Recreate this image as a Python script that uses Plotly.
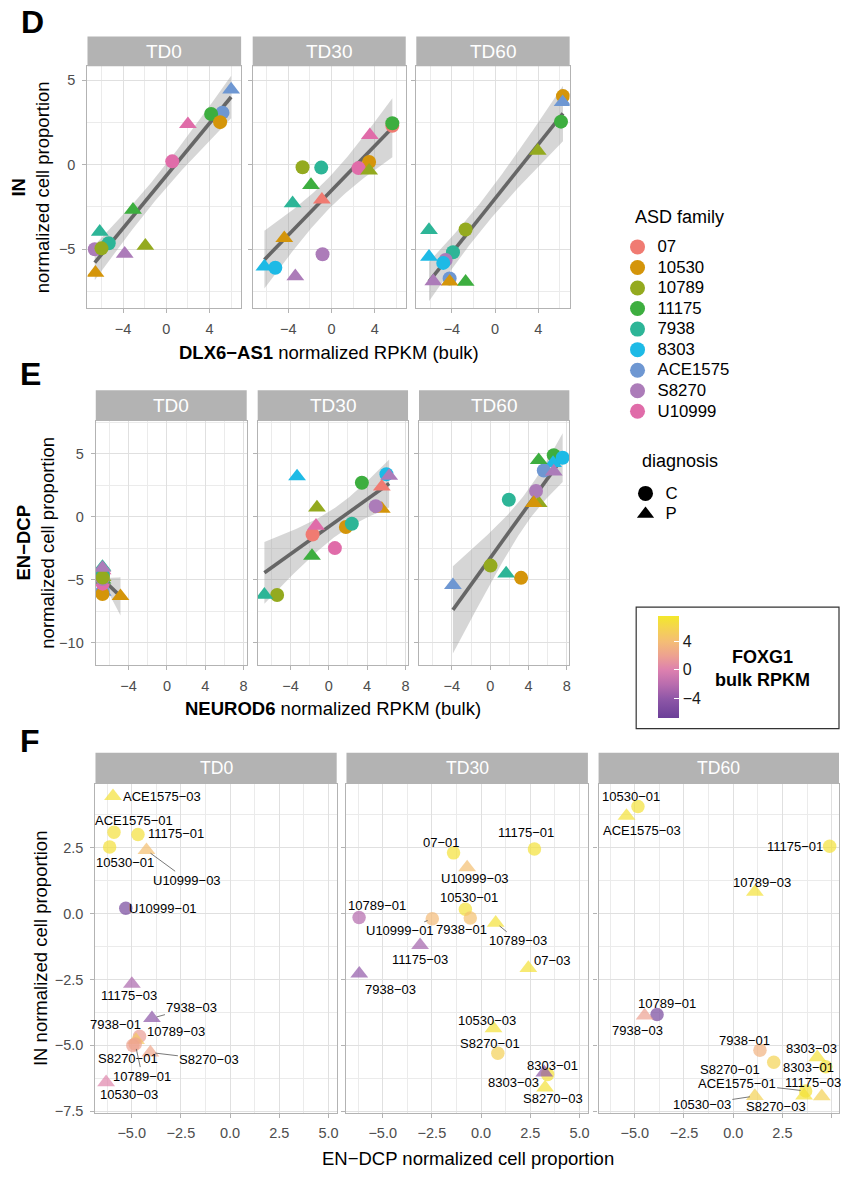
import numpy as np
import plotly.graph_objects as go

W, H = 841, 1178
FONT = "Liberation Sans, Arial, Helvetica, sans-serif"

# ---------------- data ----------------
timepoints = ["TD0", "TD30", "TD60"]
families = ["07", "10530", "10789", "11175", "7938", "8303", "ACE1575", "S8270", "U10999"]
family_colors = ["#F07B72", "#D4950A", "#94AA1F", "#3DAE3F", "#2DB597",
                 "#1DBAE6", "#6E97D2", "#AC7CB9", "#E06CA9"]
diagnoses = ["C", "P"]

td0_sample = ["ACE1575-03", "ACE1575-01", "11175-01", "10530-01", "U10999-03", "U10999-01",
              "11175-03", "7938-03", "7938-01", "10789-03", "S8270-01", "10789-01",
              "S8270-03", "10530-03"]
td0_dlx6 = [6.0, 5.2, 4.15, 4.98, 2.0, 0.55, -3.08, -6.16, -5.33, -1.94, -6.62, -6.0, -3.85, -6.56]
td0_neurod6 = [-6.70, -6.72, -6.71, -6.73, -6.72, -6.71, -6.73, -6.73, -6.70, -6.72, -6.73,
               -6.71, -6.73, -4.85]
td0_in = [4.45, 3.08, 3.0, 2.52, 2.4, 0.2, -2.67, -3.97, -4.65, -4.8, -5.0, -4.95, -5.27, -6.4]
td0_endcp = [-5.95, -5.9, -4.68, -6.12, -4.25, -5.3, -4.99, -3.97, -4.6, -4.78, -4.94, -4.82,
             -4.05, -6.3]
td0_foxg1 = [7.0, 6.8, 6.9, 6.9, 4.2, -5.8, -2.6, -4.2, 1.7, 5.0, 2.0, 2.2, 2.4, 0.3]

td30_sample = ["07-01", "11175-01", "U10999-03", "10530-01", "10789-01", "U10999-01", "7938-01",
               "10789-03", "11175-03", "7938-03", "07-03", "10530-03", "S8270-01", "8303-01",
               "8303-03", "S8270-03"]
td30_dlx6 = [5.63, 5.63, 3.55, 3.48, -2.68, 2.5, -0.95, 3.48, -1.9, -3.6, -0.89, -4.37, -0.83,
             -5.2, -6.21, -3.35]
td30_neurod6 = [-1.7, 3.45, -1.34, 1.78, -5.4, 0.63, 2.4, -1.24, -1.76, -6.73, 5.53, 5.53, 4.9,
                6.01, -3.32, 6.3]
td30_in = [2.3, 2.45, 1.75, 0.16, -0.15, -0.2, -0.17, -0.35, -1.2, -2.28, -2.07, -4.35, -5.3,
           -6.1, -6.03, -6.6]
td30_endcp = [-1.4, 2.71, -0.71, -0.8, -6.2, -2.48, -0.55, 0.74, -3.1, -6.19, 2.4, 0.63, 0.85,
              3.38, 3.21, 3.25]
td30_foxg1 = [7.0, 7.0, 4.2, 7.0, -2.2, 3.8, 4.3, 7.0, -3.0, -3.8, 7.0, 7.0, 5.6, 7.0, -4.0, 7.0]

td60_sample = ["10530-01", "ACE1575-03", "11175-01", "10789-03", "10789-01", "7938-03",
               "7938-01", "S8270-01", "8303-03", "8303-01", "ACE1575-01", "11175-03",
               "10530-03", "S8270-03"]
td60_dlx6 = [6.28, 6.25, 6.1, 3.94, -2.73, -6.12, -3.9, -4.58, -6.12, -4.8, -4.21, -2.73,
             -4.21, -5.72]
td60_neurod6 = [3.23, -3.89, 6.64, 5.07, 0.04, 1.67, 1.95, 4.79, 6.57, 7.57, 5.6, 5.07, 4.55,
                6.64]
td60_in = [4.06, 3.7, 2.55, 0.82, -3.83, -3.87, -5.18, -5.64, -5.45, -5.81, -6.73, -6.93,
           -6.92, -6.9]
td60_endcp = [-4.84, -5.42, 4.9, 1.1, -3.87, -4.5, 1.36, 2.06, 4.27, 4.7, 3.68, 4.5, 1.1, 3.6]
td60_foxg1 = [7.0, 7.0, 7.0, 7.0, -5.8, 2.0, 3.2, 5.8, 7.0, 7.0, 7.0, 5.7, 5.7, 7.0]

foxg1_ticks = [-4, 0, 4]
foxg1_limits = [-6.64, 7.57]
foxg1_scale_values = [-6.64, -4, -2, 0, 2, 4, 6, 7.57]
foxg1_scale_colors = ["#6B3F98", "#8E57A7", "#B86CAE", "#DC80AF", "#EDA191", "#F4BD75",
                      "#F4D54E", "#F3E82A"]

samples = {"TD0": td0_sample, "TD30": td30_sample, "TD60": td60_sample}
dlx6 = {"TD0": td0_dlx6, "TD30": td30_dlx6, "TD60": td60_dlx6}
neurod6 = {"TD0": td0_neurod6, "TD30": td30_neurod6, "TD60": td60_neurod6}
in_prop = {"TD0": td0_in, "TD30": td30_in, "TD60": td60_in}
endcp_prop = {"TD0": td0_endcp, "TD30": td30_endcp, "TD60": td60_endcp}
foxg1 = {"TD0": td0_foxg1, "TD30": td30_foxg1, "TD60": td60_foxg1}

# ---------------- label placement (style: pixel offsets, segment flag) ----------------
LABEL_OFFSETS = {
    "TD0": {"ACE1575-03": (49, 0, 0), "ACE1575-01": (20, -12, 0), "11175-01": (38, -1, 0),
            "10530-01": (15, 15, 0), "U10999-03": (41, 30, 1), "U10999-01": (37, 0, 0),
            "11175-03": (-3, 12, 0), "7938-03": (40, -11, 1), "7938-01": (-24, -12, 0),
            "10789-03": (40, -9, 0), "S8270-01": (-5, 13, 0), "10789-01": (7, 32, 1),
            "S8270-03": (59, 7, 1), "10530-03": (23, 12, 0)},
    "TD30": {"07-01": (-12, -10, 0), "11175-01": (-8, -16, 0), "U10999-03": (8, 11, 0),
             "10530-01": (4, -12, 0), "10789-01": (18, -12, 0), "U10999-01": (-32, 12, 1),
             "7938-01": (-9, 11, 0), "10789-03": (22, 18, 1), "11175-03": (0, 14, 0),
             "7938-03": (31, 16, 0), "07-03": (24, -8, 0), "10530-03": (-7, -8, 0),
             "S8270-01": (-8, -10, 0), "8303-01": (5, -9, 0), "8303-03": (-31, 10, 0),
             "S8270-03": (8, 11, 0)},
    "TD60": {"10530-01": (-7, -10, 0), "ACE1575-03": (15, 15, 0), "11175-01": (-35, 0, 0),
             "10789-03": (7, -9, 0), "10789-01": (10, -11, 0), "7938-03": (-7, 15, 0),
             "7938-01": (-15, -10, 0), "S8270-01": (-44, 7, 0), "8303-03": (-6, -9, 0),
             "8303-01": (-17, 1, 0), "ACE1575-01": (-69, -8, 1), "11175-03": (-9, -14, 0),
             "10530-03": (-53, 8, 1), "S8270-03": (-28, 11, 0)},
}

# ---------------- geometry (pixels) ----------------
SECTIONS = {
    "D": dict(panels=[(87.7, 241.7), (253.3, 406.7), (417.3, 571.0)], strip=(36.7, 66.7),
              ybot=310.0, xmin=-7.294, xppu=10.83, ytop=5.824, yppu=17.0,
              xdtick=4, xminor=2, ydtick=5, yminor=2.5, fmt="", strip_font=19),
    "E": dict(panels=[(96.0, 247.3), (258.3, 409.0), (420.0, 570.7)], strip=(392.7, 423.3),
              ybot=669.0, xmin=-7.43, xppu=9.6, ytop=7.63, yppu=12.67,
              xdtick=4, xminor=2, ydtick=5, yminor=2.5, fmt="", strip_font=19),
    "F": dict(panels=[(95.7, 337.5), (347.3, 589.3), (600.0, 841.0)], strip=(757.3, 788.3),
              ybot=1119.3, xmin=-6.84, xppu=19.73, ytop=4.926, yppu=26.53,
              xdtick=2.5, xminor=1.25, ydtick=2.5, yminor=1.25, fmt=".1f", strip_font=17.6),
}

fam_color = dict(zip(families, family_colors))


def px2x(px):
    return px / W


def px2y(py):
    return 1 - py / H


def t975(df):
    z = 1.959963985
    g1 = (z**3 + z) / 4
    g2 = (5 * z**5 + 16 * z**3 + 3 * z) / 96
    g3 = (3 * z**7 + 19 * z**5 + 17 * z**3 - 15 * z) / 384
    g4 = (79 * z**9 + 776 * z**7 + 1482 * z**5 - 1920 * z**3 - 945 * z) / 92160
    return z + g1 / df + g2 / df**2 + g3 / df**3 + g4 / df**4


def lm_band(x, y, n=80):
    x = np.asarray(x, float)
    y = np.asarray(y, float)
    b1, b0 = np.polyfit(x, y, 1)
    xs = np.linspace(x.min(), x.max(), n)
    yhat = b0 + b1 * xs
    resid = y - (b0 + b1 * x)
    dof = len(x) - 2
    s = np.sqrt(np.sum(resid**2) / dof)
    sxx = np.sum((x - x.mean()) ** 2)
    se = s * np.sqrt(1 / len(x) + (xs - x.mean()) ** 2 / sxx)
    t = t975(dof)
    return xs, yhat, yhat - t * se, yhat + t * se


def dash(s):
    return s.replace("-", "\u2212")


fig = go.Figure()
layout = dict(width=W, height=H, margin=dict(l=0, r=0, t=0, b=0), autosize=False,
              paper_bgcolor="white", plot_bgcolor="white", showlegend=True,
              font=dict(family=FONT, color="black"))
annotations = []
shapes = []

for si, (sec, g) in enumerate(SECTIONS.items()):
    top_strip, bot_strip = g["strip"]
    for k, tp in enumerate(timepoints):
        idx = si * 3 + k + 1
        sfx = "" if idx == 1 else str(idx)
        x0, x1 = g["panels"][k]
        xr = [g["xmin"], g["xmin"] + (x1 - x0) / g["xppu"]]
        yr = [g["ytop"] - (g["ybot"] - bot_strip) / g["yppu"], g["ytop"]]
        common = dict(showline=True, mirror=True, linecolor="#B3B3B3", linewidth=1.3,
                      showgrid=True, gridcolor="#E0E0E0", gridwidth=1.2, zeroline=False,
                      ticks="outside", ticklen=4, tickwidth=1, tickcolor="#B3B3B3",
                      tickfont=dict(family=FONT, size=14.5, color="#4D4D4D"),
                      fixedrange=True, tickmode="linear", tick0=0)
        layout["xaxis" + sfx] = dict(common, domain=[px2x(x0), px2x(x1)], range=xr,
                                     anchor="y" + sfx, dtick=g["xdtick"], tickformat=g["fmt"],
                                     ticklabelstandoff=3,
                                     minor=dict(dtick=g["xminor"], tick0=0, showgrid=True,
                                                gridcolor="#EBEBEB", gridwidth=0.8))
        layout["yaxis" + sfx] = dict(common, domain=[px2y(g["ybot"]), px2y(bot_strip)],
                                     range=yr, anchor="x" + sfx, dtick=g["ydtick"],
                                     tickformat=g["fmt"], showticklabels=(k == 0),
                                     ticklabelstandoff=4,
                                     minor=dict(dtick=g["yminor"], tick0=0, showgrid=True,
                                                gridcolor="#EBEBEB", gridwidth=0.8))
        # strip
        shapes.append(dict(type="rect", xref="paper", yref="paper", x0=px2x(x0), x1=px2x(x1),
                           y0=px2y(bot_strip), y1=px2y(top_strip), fillcolor="#B3B3B3",
                           line=dict(width=0), layer="above"))
        annotations.append(dict(text=tp, xref="paper", yref="paper", x=px2x((x0 + x1) / 2),
                                y=px2y((top_strip + bot_strip) / 2), showarrow=False,
                                xanchor="center", yanchor="middle",
                                font=dict(family=FONT, size=g["strip_font"], color="white")))

        names = samples[tp]
        fams = [n.split("-")[0] for n in names]
        diag = ["C" if n.endswith("01") else "P" for n in names]
        if sec in ("D", "E"):
            xv = dlx6[tp] if sec == "D" else neurod6[tp]
            yv = in_prop[tp] if sec == "D" else endcp_prop[tp]
            xs, yh, lo, hi = lm_band(xv, yv)
            fig.add_trace(go.Scatter(x=np.concatenate([xs, xs[::-1]]),
                                     y=np.concatenate([hi, lo[::-1]]), fill="toself",
                                     fillcolor="rgba(153,153,153,0.4)", line=dict(width=0),
                                     mode="lines", hoverinfo="skip", showlegend=False,
                                     xaxis="x" + sfx, yaxis="y" + sfx))
            fig.add_trace(go.Scatter(x=xs, y=yh, mode="lines",
                                     line=dict(color="#666666", width=3.6),
                                     hoverinfo="skip", showlegend=False,
                                     xaxis="x" + sfx, yaxis="y" + sfx))
            fig.add_trace(go.Scatter(
                x=xv, y=yv, mode="markers", showlegend=False, text=names,
                marker=dict(color=[fam_color[f] for f in fams],
                            symbol=["circle" if d == "C" else "triangle-up" for d in diag],
                            size=[14 if d == "C" else 15.5 for d in diag],
                            line=dict(width=0), opacity=1),
                xaxis="x" + sfx, yaxis="y" + sfx))
        else:
            xv = endcp_prop[tp]
            yv = in_prop[tp]
            fig.add_trace(go.Scatter(
                x=xv, y=yv, mode="markers", showlegend=False, text=names,
                marker=dict(color=foxg1[tp], coloraxis="coloraxis",
                            symbol=["circle" if d == "C" else "triangle-up" for d in diag],
                            size=[13.5 if d == "C" else 15.5 for d in diag],
                            line=dict(width=0)),
                xaxis="x" + sfx, yaxis="y" + sfx))
            for n, xx, yy in zip(names, xv, yv):
                dx, dy, seg = LABEL_OFFSETS[tp][n]
                annotations.append(dict(
                    text=dash(n), xref="x" + sfx, yref="y" + sfx, x=xx, y=yy,
                    ax=dx, ay=dy, showarrow=True, arrowhead=0, arrowwidth=0.8,
                    arrowcolor="#555555" if seg else "rgba(0,0,0,0)",
                    standoff=5 if seg else 0,
                    font=dict(family=FONT, size=13, color="black")))

# ---------------- legends ----------------
for f, c in zip(families, family_colors):
    fig.add_trace(go.Scatter(x=[None], y=[None], mode="markers", legend="legend",
                             name='<span style="font-size:16.8px">%s</span>' % f,
                             marker=dict(color=c, size=15, symbol="circle")))
for d in diagnoses:
    fig.add_trace(go.Scatter(x=[None], y=[None], mode="markers", legend="legend2",
                             name='<span style="font-size:16.8px">%s</span>' % d,
                             marker=dict(color="black", size=15,
                                         symbol="circle" if d == "C" else "triangle-up")))

leg_common = dict(xanchor="left", yanchor="top", bgcolor="rgba(0,0,0,0)", borderwidth=0,
                  font=dict(family=FONT, size=13.5, color="black"), itemsizing="trace",
                  tracegroupgap=0, traceorder="normal", itemclick=False, itemdoubleclick=False)
layout["legend"] = dict(leg_common, x=px2x(619), y=px2y(233))
layout["legend2"] = dict(leg_common, x=px2x(627), y=px2y(481))

span = foxg1_limits[1] - foxg1_limits[0]
colorscale = [[(v - foxg1_limits[0]) / span, c] for v, c in zip(foxg1_scale_values, foxg1_scale_colors)]
layout["coloraxis"] = dict(
    cmin=foxg1_limits[0], cmax=foxg1_limits[1], colorscale=colorscale,
    colorbar=dict(x=px2x(659.3), xanchor="left", y=px2y(670.5), yanchor="middle",
                  len=102.4 / H, lenmode="fraction", thickness=20.7, thicknessmode="pixels",
                  outlinewidth=0, tickmode="array", tickvals=foxg1_ticks, ticks="inside",
                  ticklen=5, tickcolor="white", tickwidth=1, xpad=0, ypad=0,
                  tickfont=dict(family=FONT, size=16, color="#1A1A1A"), title=dict(text="")))
shapes.append(dict(type="rect", xref="paper", yref="paper", x0=px2x(637.7), x1=1.0,
                   y0=px2y(733), y1=px2y(610.7), line=dict(color="#333333", width=1.2),
                   fillcolor="rgba(0,0,0,0)", layer="below"))


def ann(text, px, py, size, xanchor="center", angle=0, color="black"):
    annotations.append(dict(text=text, xref="paper", yref="paper", x=px2x(px), y=px2y(py),
                            showarrow=False, xanchor=xanchor, yanchor="middle",
                            textangle=angle, font=dict(family=FONT, size=size, color=color)))


ann("<b>FOXG1<br>bulk RPKM</b>", 715, 672, 18, xanchor="left")
ann("ASD family", 634.3, 218.3, 18, xanchor="left")
ann("diagnosis", 641.7, 463.3, 18, xanchor="left")
ann("<b>D</b>", 32.5, 21.7, 32)
ann("<b>E</b>", 31, 376.7, 32)
ann("<b>F</b>", 30, 745, 32)
ann("<b>DLX6\u2212AS1</b> normalized RPKM (bulk)", 329.3, 355, 18.5)
ann("<b>NEUROD6</b> normalized RPKM (bulk)", 333.4, 713, 18.5)
ann("EN\u2212DCP normalized cell proportion", 468.8, 1165, 18.5)
ann("<b>IN</b><br>normalized cell proportion", 30, 188.4, 18.5, angle=-90)
ann("<b>EN\u2212DCP</b><br>normalized cell proportion", 36, 546, 18.5, angle=-90)
ann("IN normalized cell proportion", 40, 953.8, 18.5, angle=-90)

layout["annotations"] = annotations
layout["shapes"] = shapes
fig.update_layout(**layout)
fig.write_html("out.html", config={"displayModeBar": False})
